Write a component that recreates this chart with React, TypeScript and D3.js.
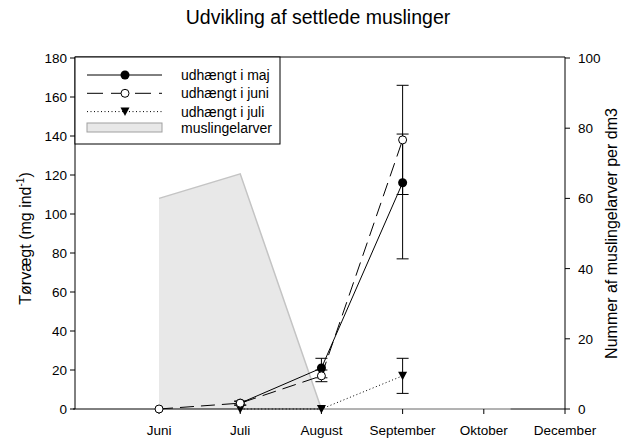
import React from "react";
import * as d3 from "d3";

const months = ["Juni", "Juli", "August", "September", "Oktober", "December"];

// udhængt i maj (mg ind-1)
const majX = [1, 2, 3];
const majY = [3, 21, 116];
const majLo = [2, 16, 77];
const majHi = [4, 26, 141];

// udhængt i juni
const juniX = [0, 1, 2, 3];
const juniY = [0, 3, 17, 138];
const juniLo = [0, 2, 14, 110];
const juniHi = [0, 4, 20, 166];

// udhængt i juli
const juliX = [1, 2, 3];
const juliY = [0, 0, 17];
const juliLo = [0, 0, 8];
const juliHi = [0, 0, 26];

// muslingelarver per dm3 (right axis)
const larvX = [0, 1, 2, 4.33];
const larvY = [60, 67, 0, 0];

const leftTicks = [0, 20, 40, 60, 80, 100, 120, 140, 160, 180];
const rightTicks = [0, 20, 40, 60, 80, 100];

const W = 630;
const H = 439;
const L = 75;
const R = 565;
const T = 58;
const B = 409;
const FONT = "Liberation Sans, Arial, sans-serif";

export default function App() {
  const x = d3.scaleLinear().domain([-1.035, 5]).range([L, R]);
  const yL = d3.scaleLinear().domain([0, 180]).range([B, T]);
  const yR = d3.scaleLinear().domain([0, 100]).range([B, T]);

  const area = d3
    .area<number>()
    .x((_, i) => x(larvX[i]))
    .y0(() => yR(0))
    .y1((d) => yR(d));
  const areaTop = d3
    .line<number>()
    .x((_, i) => x(larvX[i]))
    .y((d) => yR(d));

  const mkLine = (xs: number[]) =>
    d3
      .line<number>()
      .x((_, i) => x(xs[i]))
      .y((d) => yL(d));

  const errBars = (xs: number[], lo: number[], hi: number[], key: string) =>
    xs.map((xv, i) =>
      hi[i] - lo[i] > 0 ? (
        <g key={key + i} stroke="#000" strokeWidth={1}>
          <line x1={x(xv)} x2={x(xv)} y1={yL(lo[i])} y2={yL(hi[i])} />
          <line x1={x(xv) - 6} x2={x(xv) + 6} y1={yL(lo[i])} y2={yL(lo[i])} />
          <line x1={x(xv) - 6} x2={x(xv) + 6} y1={yL(hi[i])} y2={yL(hi[i])} />
        </g>
      ) : null
    );

  const tri = (cx: number, cy: number) =>
    `M${cx - 4.5},${cy - 4} L${cx + 4.5},${cy - 4} L${cx},${cy + 4.5} Z`;

  const legendRows = [
    { label: "udhængt i maj", dash: "none", marker: "filled" },
    { label: "udhængt i juni", dash: "16,8", marker: "open" },
    { label: "udhængt i juli", dash: "1,2.5", marker: "tri" },
  ];

  const midY = (T + B) / 2;

  return (
    <svg
      width={W}
      height={H}
      style={{ position: "absolute", left: 0, top: 0, background: "#fff" }}
      fontFamily={FONT}
    >
      <rect x={0} y={0} width={W} height={H} fill="#fff" />
      <text x={318} y={24} fontSize={19.5} textAnchor="middle" fill="#000">
        Udvikling af settlede muslinger
      </text>

      {/* larvae area */}
      <path d={area(larvY) || ""} fill="#e8e8e8" stroke="none" />

      {/* axes frame */}
      <line x1={L} x2={L} y1={T - 1} y2={B} stroke="#000" />
      <line x1={R} x2={R} y1={T - 1} y2={B} stroke="#000" />
      <line x1={L} x2={R} y1={T - 1} y2={T - 1} stroke="#000" />
      <line x1={L - 2} x2={R} y1={B} y2={B} stroke="#000" />

      <path d={areaTop(larvY) || ""} fill="none" stroke="#c4c4c4" strokeWidth={1.5} />

      {/* left ticks */}
      {leftTicks.map((t) => (
        <g key={"l" + t}>
          <line x1={L - 5} x2={L} y1={yL(t)} y2={yL(t)} stroke="#000" />
          <text x={L - 8} y={yL(t) + 5} fontSize={13.5} textAnchor="end" fill="#000">
            {t}
          </text>
        </g>
      ))}
      {/* right ticks */}
      {rightTicks.map((t) => (
        <g key={"r" + t}>
          <line x1={R} x2={R + 5} y1={yR(t)} y2={yR(t)} stroke="#000" />
          <text x={R + 13} y={yR(t) + 5} fontSize={13.5} textAnchor="start" fill="#000">
            {t}
          </text>
        </g>
      ))}
      {/* bottom ticks */}
      {months.map((m, i) => (
        <g key={"b" + m}>
          <line x1={x(i)} x2={x(i)} y1={B} y2={B + 5} stroke="#000" />
          <text x={x(i)} y={435} fontSize={13.5} textAnchor="middle" fill="#000">
            {m}
          </text>
        </g>
      ))}

      <text
        transform={`translate(31,${midY + 5}) rotate(-90)`}
        fontSize={16}
        textAnchor="middle"
        fill="#000"
      >
        Tørvægt (mg ind
        <tspan fontSize={10} dy={-7}>
          -1
        </tspan>
        <tspan dy={7}>)</tspan>
      </text>
      <text
        transform={`translate(617,${midY}) rotate(-90)`}
        fontSize={16}
        textAnchor="middle"
        fill="#000"
      >
        Nummer af muslingelarver per dm3
      </text>

      {/* series */}
      {errBars(majX, majLo, majHi, "em")}
      {errBars(juniX, juniLo, juniHi, "ej")}
      {errBars(juliX, juliLo, juliHi, "el")}

      <path d={mkLine(juliX)(juliY) || ""} fill="none" stroke="#000" strokeDasharray="1,2.5" />
      <path d={mkLine(majX)(majY) || ""} fill="none" stroke="#000" />
      <path d={mkLine(juniX)(juniY) || ""} fill="none" stroke="#000" strokeDasharray="14,7" />

      {juliX.map((xv, i) => (
        <path key={"tl" + i} d={tri(x(xv), yL(juliY[i]))} fill="#000" />
      ))}
      {majX.map((xv, i) => (
        <circle key={"cm" + i} cx={x(xv)} cy={yL(majY[i])} r={4.5} fill="#000" />
      ))}
      {juniX.map((xv, i) => (
        <circle
          key={"cj" + i}
          cx={x(xv)}
          cy={yL(juniY[i])}
          r={4}
          fill="#fff"
          stroke="#000"
          strokeWidth={1}
        />
      ))}

      {/* legend */}
      <rect x={L} y={T - 1} width={205} height={87} fill="#fff" stroke="#000" />
      {legendRows.map((r, i) => {
        const cy = 75 + i * 18.3;
        return (
          <g key={"lg" + i}>
            <line x1={87} x2={162} y1={cy} y2={cy} stroke="#000" strokeDasharray={r.dash} />
            {r.marker === "filled" && <circle cx={125} cy={cy} r={4.5} fill="#000" />}
            {r.marker === "open" && (
              <circle cx={125} cy={cy} r={4} fill="#fff" stroke="#000" />
            )}
            {r.marker === "tri" && <path d={tri(125, cy)} fill="#000" />}
            <text x={181} y={cy + 5} fontSize={14} fill="#000">
              {r.label}
            </text>
          </g>
        );
      })}
      <rect x={87} y={123} width={75} height={9} fill="#e8e8e8" stroke="#a0a0a0" />
      <text x={181} y={133} fontSize={14} fill="#000">
        muslingelarver
      </text>
    </svg>
  );
}
